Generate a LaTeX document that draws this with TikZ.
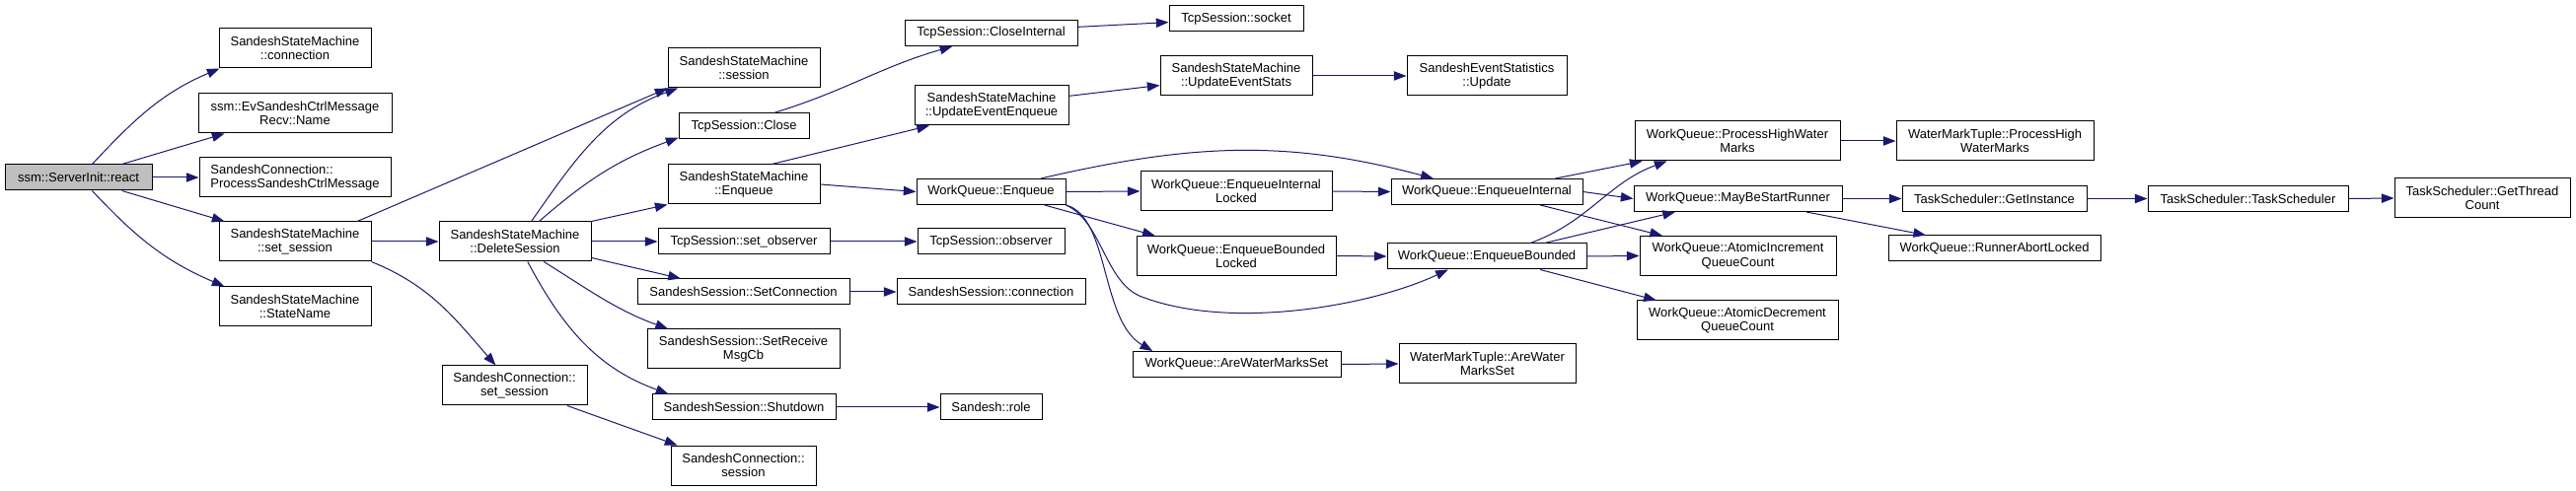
\documentclass[tikz,border=0pt]{standalone}
\usepackage{fontspec}
\setmainfont{Liberation Sans}
\usetikzlibrary{arrows.meta}
\definecolor{callblue}{RGB}{25,25,112}
\definecolor{rootgray}{RGB}{191,191,191}
\tikzset{
  fn/.style={rectangle, draw=black, fill=white, line width=0.75pt,
    inner sep=0pt, minimum height=19.5pt, align=center,
    font=\fontsize{9.75}{10.7}\selectfont},
  fntwo/.style={fn, minimum height=30pt},
  root/.style={fn, fill=rootgray},
  bw/.style={minimum width=#1*0.75pt},
  call/.style={-{Triangle[length=9.5pt, width=7pt]}, line width=0.75pt, color=callblue}
}
\begin{document}
\begin{tikzpicture}[x=0.75pt, y=-0.75pt]
  \fill[white] (0,0) rectangle (2611,498);

  % Caller
  \node[root, bw=149] (react) at (79.5,180) {ssm::ServerInit::react};

  % First level
  \node[fntwo, bw=154] (conn) at (299,49) {SandeshStateMachine\\::connection};
  \node[fntwo, bw=196] (name) at (299,115) {ssm::EvSandeshCtrlMessage\\Recv::Name};
  \node[fntwo, bw=194, align=left] (procmsg) at (299,180) {SandeshConnection::\\ProcessSandeshCtrlMessage};
  \node[fntwo, bw=154] (ssmset) at (299,245) {SandeshStateMachine\\::set\_session};
  \node[fntwo, bw=154] (statename) at (299,311) {SandeshStateMachine\\::StateName};

  % Second level
  \node[fntwo, bw=154] (delsess) at (522,245) {SandeshStateMachine\\::DeleteSession};
  \node[fntwo, bw=147] (scset) at (521.5,391) {SandeshConnection::\\set\_session};

  % Third level
  \node[fntwo, bw=154] (ssmsess) at (754,69) {SandeshStateMachine\\::session};
  \node[fn, bw=132] (tcpclose) at (754,128) {TcpSession::Close};
  \node[fntwo, bw=154] (ssmenq) at (754,187) {SandeshStateMachine\\::Enqueue};
  \node[fn, bw=174] (setobs) at (754,245) {TcpSession::set\_observer};
  \node[fn, bw=215] (setconn) at (753.5,296) {SandeshSession::SetConnection};
  \node[fntwo, bw=195] (setrecv) at (753.5,354) {SandeshSession::SetReceive\\MsgCb};
  \node[fn, bw=186] (shutdown) at (754,413) {SandeshSession::Shutdown};
  \node[fntwo, bw=147] (scsess) at (753.5,472) {SandeshConnection::\\session};

  % Fourth level
  \node[fn, bw=175] (closeint) at (1004.5,33.5) {TcpSession::CloseInternal};
  \node[fntwo, bw=156] (updenq) at (1005,107) {SandeshStateMachine\\::UpdateEventEnqueue};
  \node[fn, bw=151] (wqenq) at (1004.5,194.5) {WorkQueue::Enqueue};
  \node[fn, bw=149] (observer) at (1004.5,245) {TcpSession::observer};
  \node[fn, bw=191] (ssconn) at (1004.5,296) {SandeshSession::connection};
  \node[fn, bw=103] (role) at (1004.5,413) {Sandesh::role};

  % Fifth level
  \node[fn, bw=136] (socket) at (1253,19) {TcpSession::socket};
  \node[fntwo, bw=154] (updstats) at (1253,77) {SandeshStateMachine\\::UpdateEventStats};
  \node[fntwo, bw=194] (eil) at (1253,194) {WorkQueue::EnqueueInternal\\Locked};
  \node[fntwo, bw=202] (ebl) at (1253,259.5) {WorkQueue::EnqueueBounded\\Locked};
  \node[fn, bw=211] (awms) at (1253.5,369.5) {WorkQueue::AreWaterMarksSet};

  % Sixth level
  \node[fntwo, bw=162] (sesupd) at (1507,77) {SandeshEventStatistics\\::Update};
  \node[fn, bw=194] (ei) at (1507,194.5) {WorkQueue::EnqueueInternal};
  \node[fn, bw=202] (eb) at (1507,260) {WorkQueue::EnqueueBounded};
  \node[fntwo, bw=179] (wmtawms) at (1507.5,369) {WaterMarkTuple::AreWater\\MarksSet};

  % Seventh level
  \node[fntwo, bw=208] (phwm) at (1761,143) {WorkQueue::ProcessHighWater\\Marks};
  \node[fn, bw=211] (mbsr) at (1761.5,201.5) {WorkQueue::MayBeStartRunner};
  \node[fntwo, bw=199] (aiqc) at (1761.5,259.5) {WorkQueue::AtomicIncrement\\QueueCount};
  \node[fntwo, bw=204] (adqc) at (1761,325) {WorkQueue::AtomicDecrement\\QueueCount};

  % Task scheduler chain
  \node[fntwo, bw=200] (wmtphwm) at (2022,143) {WaterMarkTuple::ProcessHigh\\WaterMarks};
  \node[fn, bw=187] (getinst) at (2021.5,201.5) {TaskScheduler::GetInstance};
  \node[fn, bw=215] (runabort) at (2021.5,252) {WorkQueue::RunnerAbortLocked};
  \node[fn, bw=203] (tsched) at (2278.5,201.5) {TaskScheduler::TaskScheduler};
  \node[fntwo, bw=178] (gtc) at (2516,201) {TaskScheduler::GetThread\\Count};

  % Calls from react
  \draw[call] (react.44) to[out=47, in=203] (conn.195);
  \draw[call] (react.17) -- (name.196);
  \draw[call] (react.east) -- (procmsg.west);
  \draw[call] (react.-17) -- (ssmset.164);
  \draw[call] (react.-44) to[out=-47, in=157] (statename.164);

  % Calls from set_session
  \draw[call] (ssmset.18) -- (ssmsess.south west);
  \draw[call] (ssmset.east) -- (delsess.west);
  \draw[call] (ssmset.south east) to[out=-22, in=131] (scset.133);

  % Calls from DeleteSession
  \draw[call] (delsess.51) to[out=55, in=200] (ssmsess.197);
  \draw[call] (delsess.40) to[out=41, in=200] (tcpclose.190);
  \draw[call] (delsess.north east) -- (ssmenq.south west);
  \draw[call] (delsess.east) -- (setobs.west);
  \draw[call] (delsess.-12) -- (setconn.168);
  \draw[call] (delsess.-35) to[out=-32, in=160] (setrecv.165);
  \draw[call] (delsess.-58) to[out=-62, in=160] (shutdown.170);
  \draw[call] (scset.-21) -- (scsess.163);

  % Third to fourth level
  \draw[call] (tcpclose.24) to[out=17, in=196] (closeint.199);
  \draw[call] (ssmenq.36) -- (updenq.198);
  \draw[call] (ssmenq.east) -- (wqenq.west);
  \draw[call] (setobs.east) -- (observer.west);
  \draw[call] (setconn.east) -- (ssconn.west);
  \draw[call] (shutdown.east) -- (role.west);
  \draw[call] (closeint.4) -- (socket.183);
  \draw[call] (updenq.7) -- (updstats.187);
  \draw[call] (updstats.east) -- (sesupd.west);

  % WorkQueue::Enqueue
  \draw[call] (wqenq.15) to[out=13, in=165] (ei.166);
  \draw[call] (wqenq.east) -- (eil.west);
  \draw[call] (wqenq.-14) -- (ebl.166);
  \draw[call] (wqenq.south east) .. controls (1118,225) and (1120,290) .. (1160,302)
    .. controls (1250,335) and (1390,310) .. (eb.199);
  \draw[call] (wqenq.south east) .. controls (1125,220) and (1115,325) .. (awms.171);
  \draw[call] (eil.east) -- (ei.west);
  \draw[call] (ebl.east) -- (eb.west);
  \draw[call] (awms.east) -- (wmtawms.west);

  % EnqueueInternal and EnqueueBounded
  \draw[call] (ei.11) -- (phwm.192);
  \draw[call] (ei.east) -- (mbsr.west);
  \draw[call] (ei.-14) -- (aiqc.165);
  \draw[call] (eb.17) to[out=20, in=200] (phwm.196);
  \draw[call] (eb.13) -- (mbsr.192);
  \draw[call] (eb.east) -- (aiqc.west);
  \draw[call] (eb.-14) -- (adqc.166);

  % Runner and scheduler
  \draw[call] (phwm.east) -- (wmtphwm.west);
  \draw[call] (mbsr.east) -- (getinst.west);
  \draw[call] (mbsr.-11) -- (runabort.169);
  \draw[call] (getinst.east) -- (tsched.west);
  \draw[call] (tsched.east) -- (gtc.west);
\end{tikzpicture}
\end{document}
